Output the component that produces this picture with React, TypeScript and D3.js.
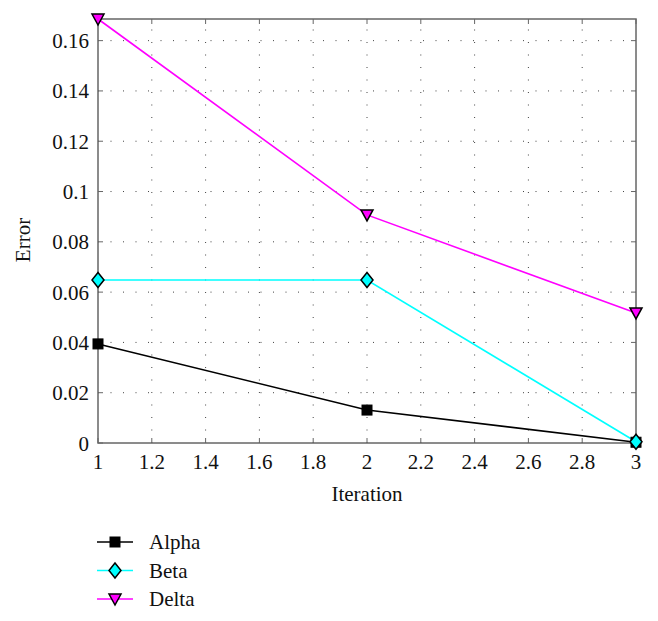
import React from "react";
import * as d3 from "d3";

const iterations = [1, 2, 3];
const alpha = [0.0394, 0.0131, 0.0003];
const beta = [0.0648, 0.0648, 0.0005];
const delta = [0.1686, 0.0907, 0.0517];
const xTicks = [1, 1.2, 1.4, 1.6, 1.8, 2, 2.2, 2.4, 2.6, 2.8, 3];
const yTicks = [0, 0.02, 0.04, 0.06, 0.08, 0.1, 0.12, 0.14, 0.16];

const seriesList = [
  { name: "Alpha", values: alpha, color: "#000000", marker: "square" },
  { name: "Beta", values: beta, color: "#00FFFF", marker: "diamond" },
  { name: "Delta", values: delta, color: "#FF00FF", marker: "triangle" },
];

const W = 658, H = 621;
const L = 98, R = 636, T = 19, B = 443;
const FONT = "'Liberation Serif', 'DejaVu Serif', serif";
const txt = { fontFamily: FONT, fontSize: "21px", fill: "#111" } as React.CSSProperties;

function Marker({ type, x, y, color }: { type: string; x: number; y: number; color: string }) {
  if (type === "square") {
    return <rect x={x - 5} y={y - 5} width={10} height={10} fill="#000" stroke="#000" />;
  }
  if (type === "diamond") {
    const s = 7.5;
    return <path d={`M${x},${y - s}L${x + s * 0.8},${y}L${x},${y + s}L${x - s * 0.8},${y}Z`} fill={color} stroke="#000" strokeWidth={1.5} />;
  }
  const s = 6;
  return <path d={`M${x - s},${y - 5}L${x + s},${y - 5}L${x},${y + 6}Z`} fill={color} stroke="#000" strokeWidth={1.5} />;
}

export default function App() {
  const x = d3.scaleLinear().domain([1, 3]).range([L, R]);
  const y = d3.scaleLinear().domain([0, 0.1686]).range([B, T]);
  const line = d3.line<number>().x((_, i) => x(iterations[i])).y((d) => y(d));
  const fmt = (v: number) => (v === 0 ? "0" : d3.format("~g")(v));

  return (
    <svg width={W} height={H} style={{ position: "absolute", left: 0, top: 0, background: "#fff" }}>
      {/* grid */}
      {xTicks.slice(1, -1).map((t) => (
        <line key={"gx" + t} x1={x(t)} x2={x(t)} y1={B} y2={T} stroke="#444" strokeWidth={1} strokeDasharray="1,11.5" />
      ))}
      {yTicks.slice(1).map((t) => (
        <line key={"gy" + t} x1={L} x2={R} y1={y(t)} y2={y(t)} stroke="#444" strokeWidth={1} strokeDasharray="1,11.5" />
      ))}
      {/* ticks */}
      {xTicks.map((t) => (
        <g key={"tx" + t}>
          <line x1={x(t)} x2={x(t)} y1={B} y2={B - 5} stroke="#666" />
          <line x1={x(t)} x2={x(t)} y1={T} y2={T + 5} stroke="#666" />
          <text x={x(t)} y={B + 26} textAnchor="middle" style={txt}>{fmt(t)}</text>
        </g>
      ))}
      {yTicks.map((t) => (
        <g key={"ty" + t}>
          <line x1={L} x2={L + 5} y1={y(t)} y2={y(t)} stroke="#666" />
          <line x1={R} x2={R - 5} y1={y(t)} y2={y(t)} stroke="#666" />
          <text x={L - 9} y={y(t) + 7.5} textAnchor="end" style={txt}>{fmt(t)}</text>
        </g>
      ))}
      <rect x={L} y={T} width={R - L} height={B - T} fill="none" stroke="#666" strokeWidth={1.5} />
      {/* lines */}
      {seriesList.map((s) => (
        <path key={s.name} d={line(s.values) || ""} fill="none" stroke={s.color} strokeWidth={1.6} />
      ))}
      {seriesList.map((s) =>
        s.values.map((v, i) => <Marker key={s.name + i} type={s.marker} x={x(iterations[i])} y={y(v)} color={s.color} />)
      )}
      {/* axis labels */}
      <text x={(L + R) / 2} y={501} textAnchor="middle" style={txt}>Iteration</text>
      <text transform={`translate(30,240) rotate(-90)`} textAnchor="middle" style={txt}>Error</text>
      {/* legend */}
      {seriesList.map((s, i) => {
        const ly = 542 + i * 28.5;
        return (
          <g key={"lg" + s.name}>
            <line x1={97} x2={133} y1={ly} y2={ly} stroke={s.color} strokeWidth={1.6} />
            <Marker type={s.marker} x={115} y={ly} color={s.color} />
            <text x={149} y={ly + 7} style={txt}>{s.name}</text>
          </g>
        );
      })}
    </svg>
  );
}
